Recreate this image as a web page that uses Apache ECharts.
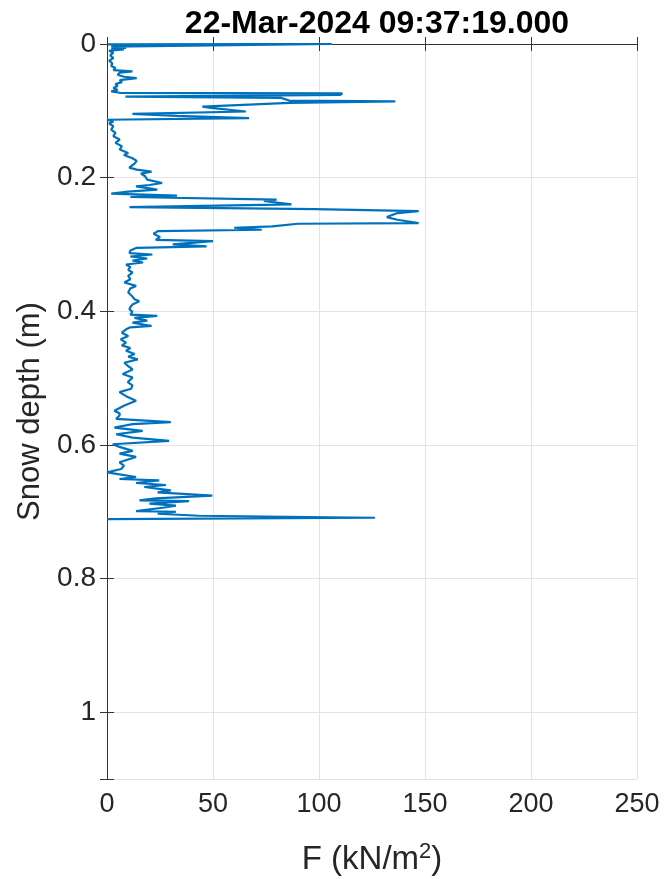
<!DOCTYPE html>
<html lang="en">
<head>
    <meta charset="utf-8">
    <title>Snow profile</title>
    <script src="https://cdn.jsdelivr.net/npm/echarts@6/dist/echarts.min.js"></script>
    <style>
        html, body { margin: 0; height: 100%; background: #fff; }
        #main { width: 666px; height: 879px; }
    </style>
</head>
<body>
<div id="main"></div>
<script type="text/javascript">
    // depth below surface (m) and penetration force (kN/m2)
    var depth = [
        0.0005, 0.000, 0.004, 0.006, 0.007, 0.008, 0.010, 0.013, 0.017, 0.021,
        0.025, 0.029, 0.033, 0.036, 0.039, 0.041, 0.043, 0.046, 0.049, 0.051,
        0.054, 0.057, 0.060, 0.063, 0.066, 0.069, 0.071, 0.073, 0.074, 0.076,
        0.0787, 0.0806, 0.0846, 0.086, 0.088, 0.0936, 0.0955, 0.101, 0.1045, 0.1075,
        0.111, 0.1134,
        0.116, 0.119, 0.123, 0.128, 0.133, 0.138, 0.143, 0.148, 0.153, 0.158,
        0.163, 0.166, 0.171, 0.175, 0.179, 0.185, 0.188, 0.191, 0.194, 0.198,
        0.203, 0.208, 0.211, 0.213, 0.216, 0.218, 0.221, 0.224, 0.227, 0.229,
        0.233, 0.235, 0.240, 0.244, 0.247, 0.250, 0.253, 0.259, 0.263, 0.268,
        0.269, 0.273, 0.275, 0.278, 0.280, 0.284, 0.289, 0.293, 0.295, 0.300,
        0.303, 0.305,
        0.309, 0.313, 0.315, 0.318, 0.321, 0.324, 0.327, 0.330, 0.334, 0.338,
        0.342, 0.347, 0.352, 0.357, 0.362, 0.366, 0.372, 0.378, 0.382, 0.385,
        0.390, 0.394, 0.397, 0.401, 0.405, 0.407, 0.410, 0.414, 0.417, 0.422,
        0.424, 0.427, 0.432, 0.437, 0.442, 0.447, 0.451, 0.455, 0.459, 0.464,
        0.468, 0.472,
        0.477, 0.482, 0.487, 0.494, 0.499, 0.506, 0.511, 0.516, 0.521, 0.527,
        0.534, 0.541, 0.549, 0.553, 0.556, 0.561, 0.566, 0.569, 0.574, 0.579,
        0.584, 0.589, 0.594, 0.599, 0.603, 0.609, 0.613, 0.618, 0.626, 0.631,
        0.636,
        0.641, 0.648, 0.651, 0.653, 0.657, 0.660, 0.663, 0.668, 0.671, 0.676,
        0.680, 0.683, 0.684, 0.688, 0.691, 0.694, 0.699, 0.700, 0.703, 0.706,
        0.709, 0.711
    ];
    var force = [
        0.5, 106, 2, 9, 2, 8, 1, 3, 1.5, 3,
        1, 2.5, 2, 4, 3, 12, 6, 5, 8, 14,
        6, 7, 4, 5, 3, 5, 2, 6, 111, 110,
        8.7, 82, 86, 136, 86, 45, 49, 65.5, 12, 33,
        67, 0,
        3, 1, 3, 2, 4, 3, 6, 4, 7, 6,
        10, 8, 12, 14, 13, 10.5, 14, 21, 16, 18,
        19, 26, 20, 13.7, 20, 23.7, 10, 2, 33, 11,
        80, 74, 87, 10.6, 98, 147, 137, 132, 137, 147,
        90, 78, 60, 73, 24, 22, 25, 23, 50, 31,
        47, 14,
        11, 10.6, 21.4, 11, 19, 12, 17, 9, 11, 10,
        12, 10, 11, 8.2, 13.7, 11, 10, 12, 13, 15.2,
        12, 11, 10.6, 12, 11, 23.7, 13, 19, 12, 21,
        11, 9, 7, 10, 6.5, 9, 7, 11, 9, 13,
        10, 14.5,
        8.2, 10, 12.1, 7.4, 12.1, 9.8, 12, 11.4, 5.9, 9,
        13.7, 8.2, 3.5, 6, 5.9, 4.3, 30.1, 12.1, 3.5, 16.8,
        4.3, 12.1, 29.3, 2.7, 5.9, 12.1, 5.9, 13.7, 5.9, 8,
        6.7,
        0, 13.7, 5.9, 24.6, 13.7, 27.8, 17.6, 30.1, 23.9, 49.7,
        23, 15.3, 38.7, 20, 32.5, 26.2, 13.7, 32.5, 23.9, 43.4,
        126.4, 0
    ];
    var xTicks = [0, 50, 100, 150, 200, 250];
    var yTicks = [0, 0.2, 0.4, 0.6, 0.8, 1];

    var axisColor = '#333333';
    var textColor = '#262626';
    var font = 'Liberation Sans, Arial, Helvetica, sans-serif';

    var chart = echarts.init(document.getElementById('main'), null, { renderer: 'canvas' });

    var points = depth.map(function (d, i) { return [force[i], d]; });

    var option = {
        backgroundColor: '#ffffff',
        animation: false,
        title: {
            text: '22-Mar-2024 09:37:19.000',
            left: 372,
            textAlign: 'center',
            top: 3,
            textStyle: { fontFamily: font, fontSize: 32, fontWeight: 'bold', color: '#000' }
        },
        grid: { left: 107, right: 29, top: 44, bottom: 100, containLabel: false, outerBoundsMode: 'none' },
        xAxis: [
            {
                type: 'value',
                position: 'bottom',
                min: xTicks[0],
                max: xTicks[xTicks.length - 1],
                interval: 50,
                name: '{a|F (kN/m}{s|2}{a|)}',
                nameLocation: 'middle',
                nameGap: 62,
                nameTextStyle: {
                    rich: {
                        a: { fontFamily: font, fontSize: 33, color: textColor },
                        s: { fontFamily: font, fontSize: 22, color: textColor, padding: [0, 0, 16, 0] }
                    }
                },
                axisLine: { show: true, lineStyle: { color: axisColor, width: 1 } },
                axisTick: { show: true, inside: true, length: 7, lineStyle: { color: axisColor } },
                axisLabel: { margin: 12, fontFamily: font, fontSize: 27, color: textColor },
                splitLine: { show: true, lineStyle: { color: '#e3e3e3', width: 1 } }
            },
            {
                type: 'value',
                position: 'top',
                min: xTicks[0],
                max: xTicks[xTicks.length - 1],
                interval: 50,
                axisLine: { show: true, lineStyle: { color: axisColor, width: 1 } },
                axisTick: { show: true, inside: true, length: 7, lineStyle: { color: axisColor } },
                axisLabel: { show: false },
                splitLine: { show: false }
            }
        ],
        yAxis: [
            {
                type: 'value',
                position: 'left',
                inverse: true,
                min: 0,
                max: 1.1,
                interval: 0.2,
                name: 'Snow depth (m)',
                nameLocation: 'middle',
                nameGap: 59,
                nameTextStyle: { fontFamily: font, fontSize: 31, color: textColor },
                axisLine: { show: true, lineStyle: { color: axisColor, width: 1 } },
                axisTick: { show: true, inside: true, length: 7, lineStyle: { color: axisColor } },
                axisLabel: {
                    margin: 11,
                    fontFamily: font,
                    fontSize: 28,
                    color: textColor,
                    formatter: function (v) {
                        return v > 1.05 ? '' : String(Math.round(v * 10) / 10);
                    }
                },
                splitLine: { show: true, lineStyle: { color: '#e3e3e3', width: 1 } }
            },
            {
                type: 'value',
                position: 'right',
                inverse: true,
                min: 0,
                max: 1.1,
                interval: 0.2,
                axisLine: { show: true, lineStyle: { color: axisColor, width: 1 } },
                axisTick: { show: true, inside: true, length: 7, lineStyle: { color: axisColor } },
                axisLabel: { show: false },
                splitLine: { show: false }
            }
        ],
        series: [
            {
                name: 'F',
                type: 'line',
                xAxisIndex: 0,
                yAxisIndex: 0,
                data: points,
                showSymbol: false,
                symbol: 'none',
                smooth: false,
                lineStyle: { color: '#0072BD', width: 2.2 },
                z: 3
            }
        ]
    };

    chart.setOption(option);
</script>
</body>
</html>
